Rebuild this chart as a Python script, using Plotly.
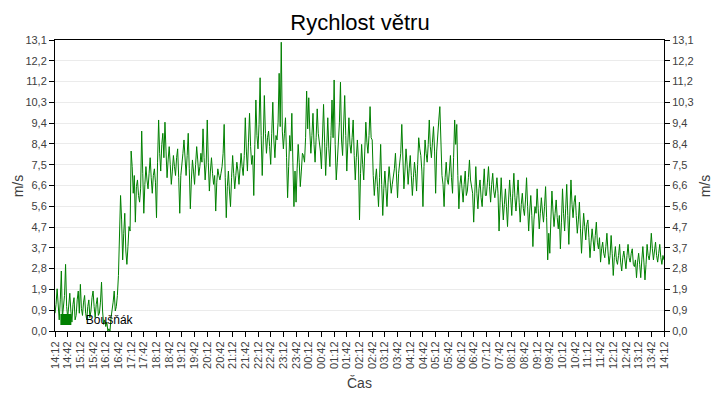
import pandas as pd
import plotly.graph_objects as go

# 2.5-minute samples from 14:12 to 14:12 next day
speed = [
    0.8, 1.2, 1.9, 0.9, 0.5, 1.4, 2.7, 0.6, 1.0, 1.6, 3.0, 1.1,
    0.6, 1.3, 1.7, 0.9, 0.4, 1.2, 1.5, 0.5, 0.7, 1.4, 1.8, 0.8,
    2.1, 1.0, 0.7, 1.3, 1.6, 0.8, 0.5, 1.1, 1.4, 0.6, 0.9, 1.5,
    1.8, 1.1, 0.6, 1.2, 1.5, 0.7, 0.8, 1.3, 2.2, 0.9, 0.3, 0.5,
    0.2, 0.4, 0.0, 0.1, 0.0, 0.6, 0.9, 1.3, 1.8, 0.9, 1.1, 1.6,
    2.5, 4.2, 6.1, 5.0, 3.2, 4.4, 5.3, 3.6, 3.0, 3.8, 4.7, 4.5,
    8.1, 7.4, 6.2, 7.0, 4.9, 6.5, 6.8, 6.1, 5.8, 6.4, 9.0, 7.1,
    5.3, 6.6, 7.4, 6.8, 6.4, 7.1, 7.8, 6.9, 6.2, 7.0, 7.3, 6.7,
    5.1, 7.6, 9.5, 8.0, 7.2, 8.4, 8.9, 7.8, 9.4, 8.1, 6.9, 7.7,
    8.3, 7.5, 6.6, 7.2, 7.9, 7.4, 7.0, 7.8, 8.2, 6.9, 5.3, 7.0,
    7.4, 8.0, 8.6, 7.6, 7.0, 7.9, 8.9, 7.3, 5.5, 6.8, 7.7, 7.2,
    6.6, 7.5, 8.3, 7.7, 7.0, 7.4, 8.0, 7.6, 9.1, 7.8, 6.8, 7.5,
    9.5, 7.6, 6.3, 7.2, 7.8, 7.1, 6.6, 7.0, 5.4, 6.7, 7.3, 7.0,
    6.8, 7.1, 7.4, 8.0, 9.3, 6.9, 5.1, 6.5, 7.2, 6.3, 5.6, 6.9,
    7.9, 7.1, 6.4, 7.0, 7.6, 7.2, 6.6, 7.3, 8.0, 7.4, 7.0, 7.9,
    9.6, 8.1, 7.2, 8.5, 9.8, 8.3, 7.5, 7.9, 6.1, 8.4, 10.4, 8.8,
    8.2, 9.3, 11.4, 8.8, 7.0, 8.6, 10.6, 8.9, 8.0, 8.7, 9.0, 8.3,
    7.5, 8.9, 10.3, 8.6, 7.8, 8.8, 8.6, 9.4, 11.6, 9.2, 13.0, 9.0,
    8.2, 8.9, 9.6, 7.8, 6.0, 7.4, 8.8, 8.1, 9.8, 7.6, 5.6, 7.2,
    5.8, 7.3, 8.4, 7.6, 6.5, 7.2, 8.0, 7.9, 7.6, 8.7, 10.8, 9.1,
    10.5, 9.0, 8.0, 8.8, 9.8, 8.4, 7.6, 8.7, 10.0, 8.9, 8.5, 8.1,
    7.3, 8.6, 10.2, 8.5, 7.0, 8.3, 9.6, 8.2, 7.4, 8.8, 10.4, 8.7,
    11.3, 8.4, 6.8, 7.6, 8.5, 9.4, 11.2, 8.6, 7.9, 9.0, 10.6, 8.8,
    7.2, 8.5, 9.6, 8.4, 8.0, 8.7, 9.5, 7.9, 6.8, 7.8, 8.6, 7.7,
    5.0, 7.1, 8.4, 7.5, 6.8, 8.1, 9.4, 8.5, 8.0, 8.8, 10.1, 8.7,
    8.6, 7.0, 6.1, 6.8, 7.3, 6.5, 5.6, 6.9, 8.4, 6.6, 5.2, 6.4,
    7.2, 6.4, 5.6, 6.7, 7.4, 6.8, 6.2, 6.6, 6.9, 7.3, 8.0, 7.0,
    6.0, 7.1, 7.8, 8.0, 9.3, 7.4, 6.4, 7.2, 8.2, 7.5, 6.6, 7.3,
    7.9, 7.0, 6.1, 6.9, 7.6, 7.1, 6.3, 7.5, 8.7, 8.2, 7.9, 7.2,
    5.6, 7.4, 8.6, 8.0, 7.6, 8.4, 9.5, 8.3, 7.8, 8.5, 9.2, 8.1,
    6.2, 8.1, 9.0, 9.5, 10.1, 8.2, 7.0, 6.6, 5.6, 6.9, 7.6, 6.8,
    6.6, 7.2, 7.9, 6.9, 6.2, 7.8, 9.5, 8.4, 9.3, 7.0, 5.5, 6.6,
    7.0, 6.4, 5.8, 6.6, 7.2, 6.1, 6.3, 6.9, 7.7, 6.8, 6.5, 6.2,
    4.9, 6.3, 7.4, 6.2, 5.5, 6.4, 6.8, 6.0, 5.6, 6.5, 7.3, 6.1,
    6.1, 6.7, 7.4, 6.5, 5.8, 6.6, 7.1, 6.3, 6.0, 6.4, 6.9, 6.2,
    4.5, 5.8, 6.9, 5.9, 5.0, 5.7, 6.4, 5.6, 4.7, 5.9, 6.8, 6.0,
    5.2, 6.2, 7.1, 6.0, 5.4, 6.1, 6.8, 5.8, 4.9, 5.7, 6.2, 5.5,
    5.2, 5.9, 6.9, 5.6, 4.5, 5.4, 6.1, 5.2, 3.8, 5.0, 5.6, 5.3,
    6.4, 5.5, 4.6, 5.3, 6.0, 5.4, 4.9, 5.6, 6.5, 5.1, 3.2, 4.4,
    3.5, 5.0, 6.3, 5.4, 4.7, 5.3, 5.9, 5.1, 4.6, 5.2, 3.7, 4.9,
    6.4, 5.3, 4.5, 5.5, 6.6, 5.2, 3.9, 5.4, 6.8, 5.7, 5.1, 5.8,
    6.1, 5.2, 4.4, 5.0, 5.8, 4.6, 3.5, 4.5, 5.3, 4.7, 4.1, 4.8,
    5.0, 4.2, 3.3, 4.0, 4.6, 4.1, 3.6, 4.3, 4.9, 4.0, 3.7, 4.2,
    3.1, 3.7, 4.0, 3.5, 3.3, 3.8, 4.4, 3.6, 3.0, 3.4, 4.3, 3.5,
    2.5, 3.3, 3.8, 3.2, 3.0, 3.4, 3.9, 3.1, 2.7, 3.3, 3.6, 3.2,
    2.8, 3.4, 3.9, 3.3, 3.1, 3.5, 3.7, 3.0, 2.9, 3.2, 2.4, 3.1,
    3.5, 3.0, 2.4, 3.2, 3.8, 3.1, 2.3, 3.0, 3.9, 3.4, 3.2, 3.6,
    4.4, 3.7, 3.2, 3.6, 4.0, 3.4, 3.1, 3.5, 3.9, 3.3, 3.0, 3.4,
    3.2,
]
START = "2024-01-01 14:12"
END = "2024-01-02 14:12"
times = pd.date_range(START, periods=len(speed), freq="150s")

x_tick_labels = [
    "14:12", "14:42", "15:12", "15:42", "16:12", "16:42", "17:12", "17:42",
    "18:12", "18:42", "19:12", "19:42", "20:12", "20:42", "21:12", "21:42",
    "22:12", "22:42", "23:12", "23:42", "00:12", "00:42", "01:12", "01:42",
    "02:12", "02:42", "03:12", "03:42", "04:12", "04:42", "05:12", "05:42",
    "06:12", "06:42", "07:12", "07:42", "08:12", "08:42", "09:12", "09:42",
    "10:12", "10:42", "11:12", "11:42", "12:12", "12:42", "13:12", "13:42",
    "14:12",
]
x_tick_vals = pd.date_range(START, END, freq="30min")

YMAX = 13.1
y_tick_labels = ["0,0", "0,9", "1,9", "2,8", "3,7", "4,7", "5,6", "6,6",
                 "7,5", "8,4", "9,4", "10,3", "11,2", "12,2", "13,1"]
y_tick_vals = [YMAX * i / (len(y_tick_labels) - 1) for i in range(len(y_tick_labels))]

series_name = "Boušňák"
title_text = "Rychlost větru"
x_title = "Čas"
y_title = "m/s"

FONT = "Liberation Sans, Arial, sans-serif"
GREEN = "#008000"
TXT = "#404040"

fig = go.Figure()
fig.add_trace(go.Scatter(x=times, y=speed, mode="lines",
                         line=dict(color=GREEN, width=1),
                         showlegend=False, hoverinfo="skip"))
fig.add_trace(go.Scatter(x=[None], y=[None], mode="markers",
                         marker=dict(symbol="square", size=11, color=GREEN),
                         name=series_name))
fig.add_trace(go.Scatter(x=[times[0]], y=[None], yaxis="y2",
                         mode="lines", showlegend=False, hoverinfo="skip"))

yaxis_common = dict(
    range=[0, YMAX], tickvals=y_tick_vals, ticktext=y_tick_labels,
    ticks="outside", ticklen=5, tickcolor="black",
    showline=True, linecolor="black", linewidth=1,
    tickfont=dict(size=11, color=TXT, family=FONT),
    zeroline=False, fixedrange=True, automargin=False,
)

title_font = dict(size=14, color=TXT, family=FONT)

fig.update_layout(
    width=720, height=400,
    margin=dict(l=55, r=56, t=40, b=69),
    paper_bgcolor="white", plot_bgcolor="white",
    font=dict(family=FONT, color=TXT),
    title=dict(text=title_text, x=0.5, xanchor="center", y=0.945, yanchor="middle",
               font=dict(size=22, color="black", family=FONT), automargin=False),
    showlegend=True,
    legend=dict(x=-0.015, y=-0.01, xanchor="left", yanchor="bottom",
                bgcolor="rgba(0,0,0,0)", font=dict(size=12, color="black", family=FONT),
                itemwidth=30),
    xaxis=dict(
        type="date", range=[START, END],
        tickvals=x_tick_vals, ticktext=x_tick_labels, tickangle=-90,
        ticks="outside", ticklen=5, tickcolor="black",
        showline=True, linecolor="black", linewidth=1, mirror=True,
        showgrid=False, zeroline=False, automargin=False, fixedrange=True,
        tickfont=dict(size=11, color=TXT, family=FONT),
    ),
    yaxis=dict(**yaxis_common, mirror=True, showgrid=True, gridcolor="#ebebeb"),
    yaxis2=dict(**yaxis_common, overlaying="y", side="right", showgrid=False),
    annotations=[
        dict(text=y_title, xref="paper", yref="paper", x=-0.061, y=0.5,
             xanchor="center", yanchor="middle", textangle=-90, showarrow=False,
             font=title_font),
        dict(text=y_title, xref="paper", yref="paper", x=1.067, y=0.5,
             xanchor="center", yanchor="middle", textangle=-90, showarrow=False,
             font=title_font),
        dict(text=x_title, xref="paper", yref="paper", x=0.5, y=-0.179,
             xanchor="center", yanchor="middle", showarrow=False,
             font=title_font),
    ],
)

fig.write_html("out.html", config={"displayModeBar": False},
               post_script="document.body.style.margin='0';")
